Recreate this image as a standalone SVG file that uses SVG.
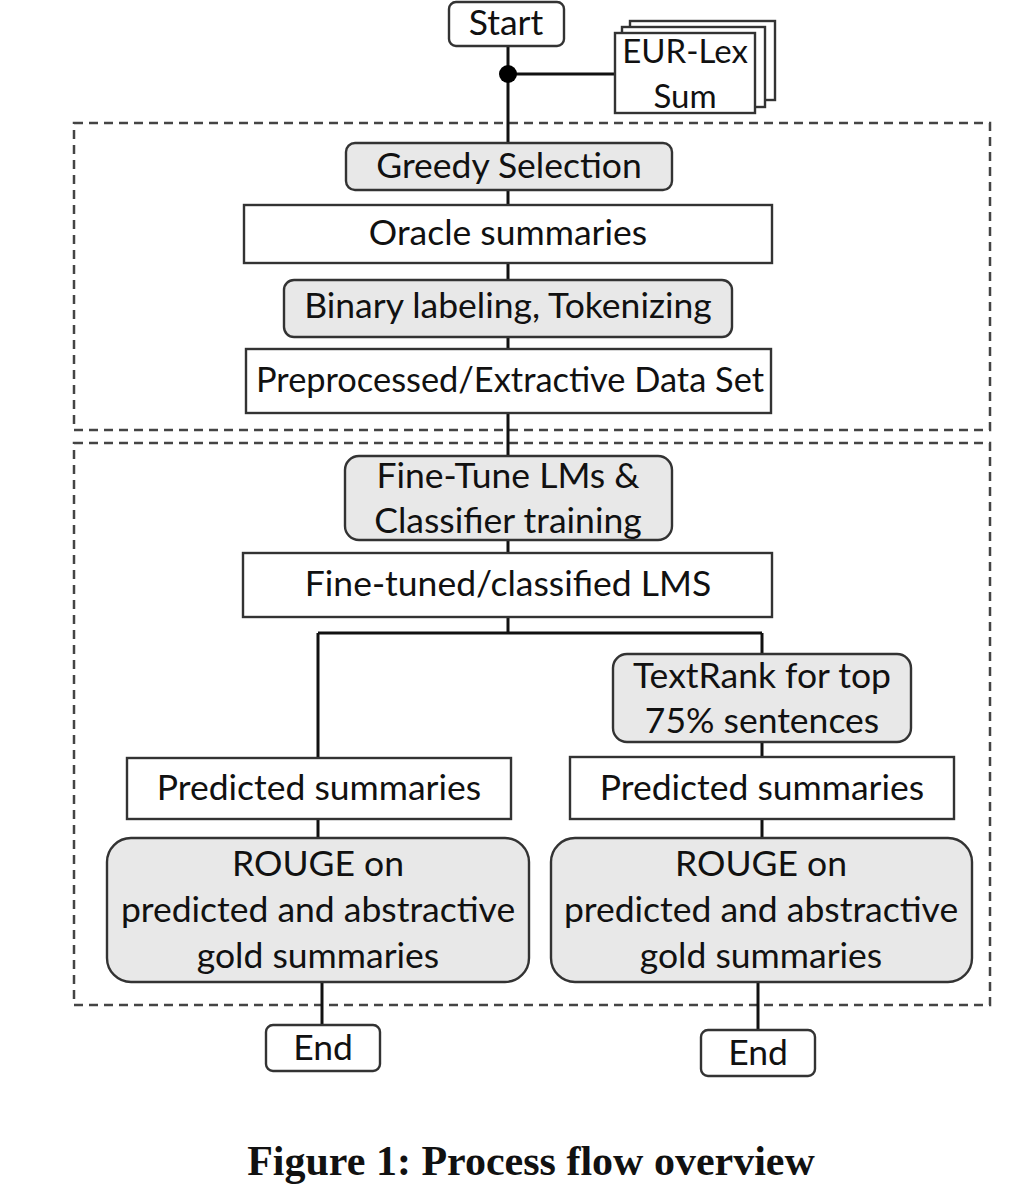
<svg xmlns="http://www.w3.org/2000/svg" width="1020" height="1188" viewBox="0 0 1020 1188">
<style>
.box{fill:#fff;stroke:#333;stroke-width:2.4}
.op{fill:#e8e8e8;stroke:#333;stroke-width:2.4}
.t{font-family:Lato,"Open Sans",sans-serif;font-size:35.5px;fill:#111;text-anchor:middle}
.c{stroke:#111;stroke-width:3;fill:none}
.dash{fill:none;stroke:#444;stroke-width:2.5;stroke-dasharray:9 6}
.cap{font-family:"Liberation Serif",serif;font-weight:bold;font-size:42px;fill:#111;text-anchor:middle}
</style>
<rect width="1020" height="1188" fill="#fff"/>
<g id="groups">
<rect class="dash" x="74" y="123" width="916" height="307"/>
<rect class="dash" x="74" y="443" width="916" height="562"/>
</g>
<g id="connectors">
<path class="c" d="M508 46 V617"/>
<path class="c" d="M508 74 H615"/>
<path class="c" d="M508 617 V633 M318 633 H762 M318 633 V758 M762 633 V654"/>
<path class="c" d="M318 819 V838"/>
<path class="c" d="M762 742 V757 M762 819 V838"/>
<path class="c" d="M322 982 V1025"/>
<path class="c" d="M758 982 V1030"/>
<circle cx="508" cy="74" r="9" fill="#000"/>
</g>
<g id="start"><rect class="box" x="449" y="2" width="115" height="44" rx="7"/><text class="t" x="506" y="35">Start</text></g>
<g id="eurlex">
<rect class="box" x="630" y="21" width="145" height="79"/>
<rect class="box" x="622" y="27" width="143" height="80"/>
<rect class="box" x="615" y="33" width="140" height="80"/>
<text class="t" x="685" y="63" style="font-size:33px">EUR-Lex</text>
<text class="t" x="685" y="108" style="font-size:33px">Sum</text>
</g>
<g id="greedy"><rect class="op" x="346" y="143" width="326" height="47" rx="9"/><text class="t" x="509" y="178">Greedy Selection</text></g>
<g id="oracle"><rect class="box" x="244" y="205" width="528" height="58"/><text class="t" x="508" y="245">Oracle summaries</text></g>
<g id="binary"><rect class="op" x="284" y="280" width="448" height="57" rx="10"/><text class="t" x="508" y="318">Binary labeling, Tokenizing</text></g>
<g id="preproc"><rect class="box" x="246" y="349" width="525" height="64"/><text class="t" x="510" y="392" textLength="508" lengthAdjust="spacingAndGlyphs">Preprocessed/Extractive Data Set</text></g>
<g id="finetune"><rect class="op" x="345" y="456" width="327" height="84" rx="14"/><text class="t" x="508" y="488">Fine-Tune LMs &amp;</text><text class="t" x="508" y="533">Classifier training</text></g>
<g id="finetuned"><rect class="box" x="243" y="553" width="529" height="64"/><text class="t" x="508" y="596">Fine-tuned/classified LMS</text></g>
<g id="textrank"><rect class="op" x="613" y="654" width="298" height="88" rx="14"/><text class="t" x="762" y="688">TextRank for top</text><text class="t" x="762" y="733">75% sentences</text></g>
<g id="pred-left"><rect class="box" x="127" y="758" width="384" height="61"/><text class="t" x="319" y="800">Predicted summaries</text></g>
<g id="pred-right"><rect class="box" x="570" y="757" width="384" height="62"/><text class="t" x="762" y="800">Predicted summaries</text></g>
<g id="rouge-left"><rect class="op" x="107" y="838" width="422" height="144" rx="24"/><text class="t" x="318" y="876">ROUGE on</text><text class="t" x="318" y="922">predicted and abstractive</text><text class="t" x="318" y="968">gold summaries</text></g>
<g id="rouge-right"><rect class="op" x="551" y="838" width="421" height="144" rx="24"/><text class="t" x="761" y="876">ROUGE on</text><text class="t" x="761" y="922">predicted and abstractive</text><text class="t" x="761" y="968">gold summaries</text></g>
<g id="end-left"><rect class="box" x="266" y="1025" width="114" height="46" rx="7"/><text class="t" x="323" y="1060">End</text></g>
<g id="end-right"><rect class="box" x="701" y="1030" width="114" height="46" rx="7"/><text class="t" x="758" y="1065">End</text></g>
<text class="cap" x="531" y="1175">Figure 1: Process flow overview</text>
</svg>
